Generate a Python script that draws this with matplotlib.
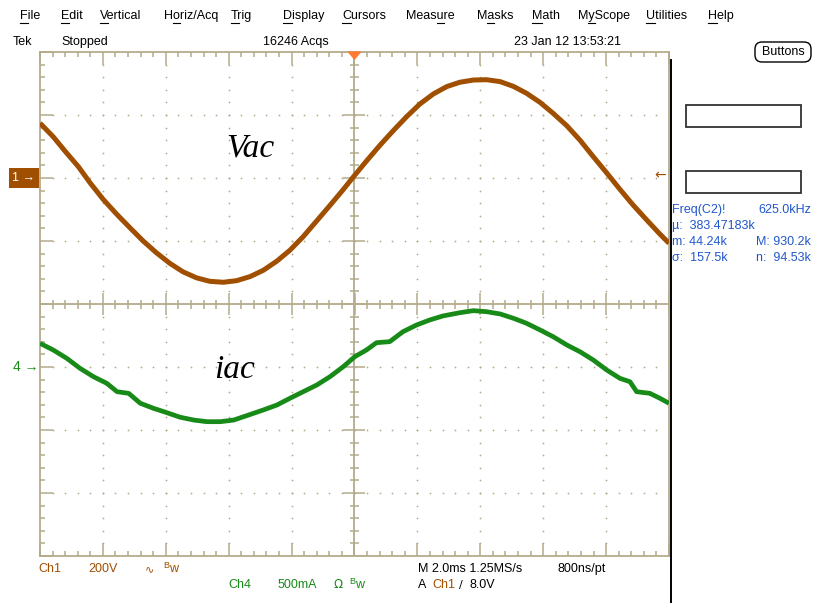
import numpy as np
import matplotlib
matplotlib.use("Agg")
import matplotlib.pyplot as plt
from matplotlib import transforms
from matplotlib.collections import LineCollection
from matplotlib.patches import Rectangle, FancyBboxPatch, Polygon

# ---- captured waveforms (time in ms relative to trigger) ----
t_vac = [-10.0, -9.58, -9.21, -8.78, -8.41, -7.99, -7.56, -7.14, -6.72, -6.29,
         -5.87, -5.45, -5.02, -4.60, -4.17, -3.75, -3.32, -2.90, -2.47, -2.05,
         -1.63, -1.20, -0.78, -0.36, 0.0, 0.39, 0.81, 1.23, 1.66, 2.08,
         2.51, 2.93, 3.35, 3.78, 4.20, 4.63, 5.05, 5.47, 5.90, 6.32,
         6.75, 7.17, 7.59, 8.02, 8.44, 8.86, 9.29, 9.71, 10.0]
vac = [174, 131, 86, 36, -15, -68, -115, -158, -200, -238,
       -271, -298, -317, -328, -331, -326, -313, -293, -264, -229,
       -186, -136, -87, -37, 8, 55, 104, 150, 195, 235,
       267, 290, 304, 311, 312, 306, 291, 269, 240, 205,
       166, 120, 68, 16, -36, -86, -133, -178, -207]   # V

t_iac = [-10.0, -9.58, -9.15, -8.73, -8.30, -7.88, -7.55, -7.18, -6.81, -6.39,
         -5.96, -5.54, -5.11, -4.69, -4.27, -3.84, -3.32, -2.90, -2.47, -2.05,
         -1.63, -1.20, -0.78, -0.36, 0.01, 0.38, 0.70, 1.12, 1.54, 1.97,
         2.39, 2.81, 3.35, 3.78, 4.20, 4.63, 5.05, 5.47, 5.90, 6.32,
         6.75, 7.17, 7.59, 8.02, 8.44, 8.76, 8.97, 9.39, 9.71, 10.0]
iac = [0.188, 0.135, 0.069, -0.010, -0.077, -0.129, -0.196, -0.209, -0.288, -0.328,
       -0.363, -0.399, -0.421, -0.434, -0.434, -0.421, -0.377, -0.341, -0.302, -0.248,
       -0.196, -0.143, -0.077, 0.002, 0.082, 0.135, 0.193, 0.201, 0.280, 0.333,
       0.373, 0.405, 0.431, 0.447, 0.439, 0.421, 0.387, 0.347, 0.294, 0.240,
       0.175, 0.121, 0.056, -0.024, -0.090, -0.117, -0.196, -0.209, -0.248, -0.288]  # A

# scope settings
ch1_scale, ch1_pos = 200.0, 2.0     # V/div, divisions
ch4_scale, ch4_pos = 0.5, -1.0      # A/div, divisions
time_div = 2.0                      # ms/div
trig_level = 8.0                    # V

menu_items = ["File", "Edit", "Vertical", "Horiz/Acq", "Trig", "Display", "Cursors",
              "Measure", "Masks", "Math", "MyScope", "Utilities", "Help"]
menu_hot = [0, 0, 0, 1, 0, 0, 0, 4, 1, 0, 1, 0, 0]
menu_x = [20, 61, 100, 164, 231, 283, 342, 406, 477, 532, 578, 646, 708]

meas_lines = [("Freq(C2)!", "625.0kHz"), ("\u00b5:  383.47183k", ""),
              ("m: 44.24k", "M: 930.2k"), ("\u03c3:  157.5k", "n:  94.53k")]

BROWN = "#a04e00"
GREEN = "#178a17"
GRID = "#b3ab8b"
BLUE = "#2157cc"
UI = ["Liberation Sans", "DejaVu Sans"]
FS = 9

W, H = 816, 603
fig = plt.figure(figsize=(W / 100, H / 100), dpi=100)

# graticule axes: x in ms, y in divisions
L, T, R, B = 40, 52, 669, 556
ax = fig.add_axes([L / W, 1 - B / H, (R - L) / W, (B - T) / H])
ax.set_xlim(-5 * time_div, 5 * time_div)
ax.set_ylim(-4, 4)
ax.set_xticks(np.arange(-10, 10.01, time_div))
ax.set_xticks(np.arange(-10, 10.01, time_div / 5), minor=True)
ax.set_yticks(np.arange(-4, 4.01, 1))
ax.set_yticks(np.arange(-4, 4.01, 0.2), minor=True)
ax.tick_params(which="both", direction="in", top=True, right=True, color=GRID,
               labelleft=False, labelbottom=False, width=1.1)
ax.tick_params(which="major", length=9.5)
ax.tick_params(which="minor", length=3.8)
for sp in ax.spines.values():
    sp.set_color(GRID)
    sp.set_linewidth(1.3)

# dotted division lines
xs_min = np.arange(-10, 10.01, time_div / 5)
ys_min = np.arange(-4, 4.01, 0.2)
for xm in np.arange(-8, 8.01, time_div):
    if abs(xm) > 1e-9:
        ax.scatter(np.full(ys_min.size - 2, xm), ys_min[1:-1], s=1.6, color=GRID,
                   linewidths=0, zorder=1)
for ym in range(-3, 4):
    if ym != 0:
        ax.scatter(xs_min[1:-1], np.full(xs_min.size - 2, ym), s=1.6, color=GRID,
                   linewidths=0, zorder=1)

# centre cross with its own tick marks
ax.axvline(0, color=GRID, lw=1.3, zorder=1)
ax.axhline(0, color=GRID, lw=1.3, zorder=1)
px_x = 20.0 / (R - L)
px_y = 8.0 / (B - T)
segs = []
for i, x in enumerate(xs_min):
    h = (11 if i % 5 == 0 else 4.5) * px_y
    segs.append([(x, -h), (x, h)])
for i, y in enumerate(ys_min):
    w = (11 if i % 5 == 0 else 4.5) * px_x
    segs.append([(-w, y), (w, y)])
ax.add_collection(LineCollection(segs, colors=GRID, linewidths=1.1, zorder=1))

# trigger position marker
ax.add_patch(Polygon([(-6 * px_x, 4), (6 * px_x, 4), (0, 4 - 7 * px_y)],
                     closed=True, color="#ff7a33", clip_on=False, zorder=5))

# channel axes sharing the time base
axv = ax.twinx()
axv.set_ylim((-4 - ch1_pos) * ch1_scale, (4 - ch1_pos) * ch1_scale)
axv.axis("off")
axi = ax.twinx()
axi.set_ylim((-4 - ch4_pos) * ch4_scale, (4 - ch4_pos) * ch4_scale)
axi.axis("off")

axv.plot(t_vac, vac, color=BROWN, lw=3.6, solid_capstyle="butt", zorder=3)
axi.plot(t_iac, iac, color=GREEN, lw=3.4, solid_capstyle="butt", zorder=3)

ax.text(-3.3, 2.48, "Vac", fontsize=24, family="Liberation Serif", style="italic",
        ha="center", va="center", zorder=6)
ax.text(-3.8, -1.04, "iac", fontsize=24, family="Liberation Serif", style="italic",
        ha="center", va="center", zorder=6)

# ground / level markers at the left and the trigger level at the right
bv = transforms.blended_transform_factory(fig.transFigure, axv.transData)
bi = transforms.blended_transform_factory(fig.transFigure, axi.transData)
fig.text(35.5 / W, 0, "1 \u2192", transform=bv, ha="right", va="center", color="white",
         fontsize=9, family=UI,
         bbox=dict(boxstyle="square,pad=0.3", fc=BROWN, ec="none"))
fig.text(38.5 / W, 0, "4 \u2192", transform=bi, ha="right", va="center", color=GREEN,
         fontsize=10, family=UI)
fig.text(660 / W, trig_level, "\u2190", transform=bv, ha="center", va="center",
         color=BROWN, fontsize=10, family="DejaVu Sans")

# ---- window chrome in pixel coordinates ----
ov = fig.add_axes([0, 0, 1, 1])
ov.set_xlim(0, W)
ov.set_ylim(H, 0)
ov.axis("off")
ov.patch.set_visible(False)

for name, x, hot in zip(menu_items, menu_x, menu_hot):
    ov.text(x, 16, name, fontsize=FS, family=UI, ha="left", va="center")

ov.text(13, 42, "Tek", fontsize=FS, family=UI, va="center")
ov.text(61, 42, "Stopped", fontsize=FS, family=UI, va="center")
ov.text(263, 42, "16246 Acqs", fontsize=FS, family=UI, va="center")
ov.text(514, 42, "23 Jan 12 13:53:21", fontsize=FS, family=UI, va="center")
ov.add_patch(FancyBboxPatch((756, 43), 54, 18, boxstyle="round,pad=1,rounding_size=7",
                            fc="white", ec="black", lw=1.0))
ov.text(783, 52, "Buttons", fontsize=FS, family=UI, ha="center", va="center")

ov.add_patch(Rectangle((686, 105), 115, 22, fc="white", ec="#333333", lw=1.3))
ov.add_patch(Rectangle((686, 171), 115, 22, fc="white", ec="#333333", lw=1.3))
ov.plot([671, 671], [60, H], color="black", lw=1.4)

for k, (left, right) in enumerate(meas_lines):
    y = 210 + 16 * k
    ov.text(672, y, left, fontsize=FS, family=UI, color=BLUE, va="center")
    if right:
        ov.text(811, y, right, fontsize=FS, family=UI, color=BLUE, va="center", ha="right")

# status lines under the graticule
ov.text(38, 569, "Ch1", fontsize=FS, family=UI, color=BROWN, va="center")
ov.text(88, 569, "200V", fontsize=FS, family=UI, color=BROWN, va="center")
ov.text(145, 569, "\u223f", fontsize=8, family="DejaVu Sans", color=BROWN, va="center")
ov.text(163, 566, "B", fontsize=6.5, family=UI, color=BROWN, va="center")
ov.text(169, 569, "w", fontsize=FS, family=UI, color=BROWN, va="center")
ov.text(228, 585, "Ch4", fontsize=FS, family=UI, color=GREEN, va="center")
ov.text(278, 585, "500mA", fontsize=FS, family=UI, color=GREEN, va="center")
ov.text(333, 585, "\u03a9", fontsize=8.5, family="DejaVu Sans", color=GREEN, va="center")
ov.text(349, 582, "B", fontsize=6.5, family=UI, color=GREEN, va="center")
ov.text(355, 585, "w", fontsize=FS, family=UI, color=GREEN, va="center")
ov.text(418, 569, "M 2.0ms 1.25MS/s", fontsize=FS, family=UI, va="center")
ov.text(557, 569, "800ns/pt", fontsize=FS, family=UI, va="center")
ov.text(418, 585, "A", fontsize=FS, family=UI, va="center")
ov.text(432, 585, "Ch1", fontsize=FS, family=UI, color=BROWN, va="center")
ov.text(459, 585, "\u2215", fontsize=8, family="DejaVu Sans", va="center")
ov.text(469, 585, "8.0V", fontsize=FS, family=UI, va="center")

# underline the menu accelerator letters
fig.canvas.draw()
rend = fig.canvas.get_renderer()
for name, x, hot, t in zip(menu_items, menu_x, menu_hot, ov.texts[:len(menu_items)]):
    prop = t.get_fontproperties()
    w0 = rend.get_text_width_height_descent(name[:hot], prop, ismath=False)[0] if hot else 0
    w1 = rend.get_text_width_height_descent(name[:hot + 1], prop, ismath=False)[0]
    ov.plot([x + w0, x + w1], [23, 23], color="black", lw=0.8)

fig.savefig("out.png", dpi=100)
